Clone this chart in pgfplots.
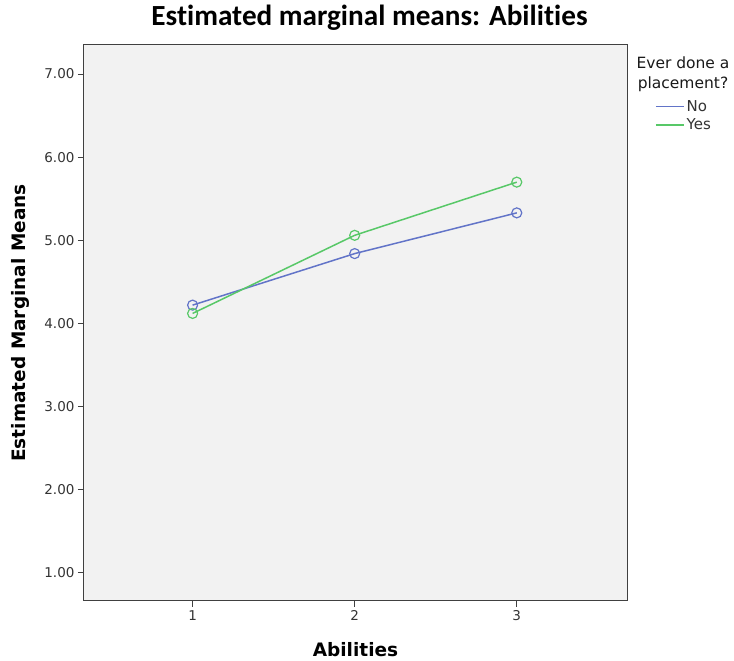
\documentclass[border=0pt]{standalone}
\usepackage{fontspec}
\setmainfont{DejaVu Sans}
\newfontfamily\titlefont[Ligatures=NoCommon]{Carlito}
\usepackage{pgfplots}
\pgfplotsset{compat=1.18}
\definecolor{nocol}{RGB}{98,116,200}
\definecolor{yescol}{RGB}{88,200,104}
\definecolor{bgcol}{RGB}{242,242,242}
\begin{document}
\begin{tikzpicture}
\begin{axis}[
  scale only axis, width=543pt, height=556pt,
  xmin=0.33, xmax=3.68, ymin=0.66, ymax=7.35,
  xtick={1,2,3}, ytick={1,2,3,4,5,6,7},
  yticklabel={\pgfmathprintnumber[fixed,fixed zerofill,precision=2]{\tick}},
  /pgf/number format/assume math mode=true,
  tick align=outside, xtick pos=bottom, ytick pos=left,
  major tick length=6pt,
  tick style={black!75, line width=1pt},
  axis background/.style={fill=bgcol},
  axis line style={black!75, line width=1pt},
  ticklabel style={font=\fontsize{13.5}{16}\selectfont, text=black!80},
  xlabel={Abilities},
  ylabel={Estimated Marginal Means},
  label style={font=\fontsize{18.5}{22}\selectfont\bfseries},
  xlabel style={at={(axis description cs:0.5,0)}, anchor=center, yshift=-49pt},
  ylabel style={at={(axis description cs:0,0.5)}, anchor=center, yshift=64pt},
  title={Estimated marginal means: Abilities},
  title style={font=\titlefont\fontsize{29.2}{32}\selectfont\bfseries, at={(axis description cs:0.5,1)}, anchor=base, xshift=14pt, yshift=13pt},
  legend style={at={(axis description cs:1,1)}, anchor=north west, xshift=28pt, yshift=-53pt, draw=none, fill=none, inner sep=0pt, row sep=2pt, font=\fontsize{15}{18}\selectfont, text=black!80},
  legend cell align=left,
  legend image code/.code={\draw[#1, mark=none] (0pt,0pt) -- (28pt,0pt);},
  clip=false,
]
\addplot[nocol, line width=1.5pt, mark=o, mark size=5pt, mark options={line width=1.2pt}]
  coordinates {(1,4.22) (2,4.84) (3,5.33)};
\addlegendentry{No}
\addplot[yescol, line width=1.5pt, mark=o, mark size=5pt, mark options={line width=1.2pt}]
  coordinates {(1,4.12) (2,5.06) (3,5.70)};
\addlegendentry{Yes}
\node[align=center, font=\fontsize{15.5}{20}\selectfont, text=black!90] at (rel axis cs:1,1) [xshift=56pt, yshift=-29pt] {Ever done a\\placement?};
\end{axis}
\path[use as bounding box] (-84pt,-60pt) rectangle (650pt,601pt);
\end{tikzpicture}
\end{document}
